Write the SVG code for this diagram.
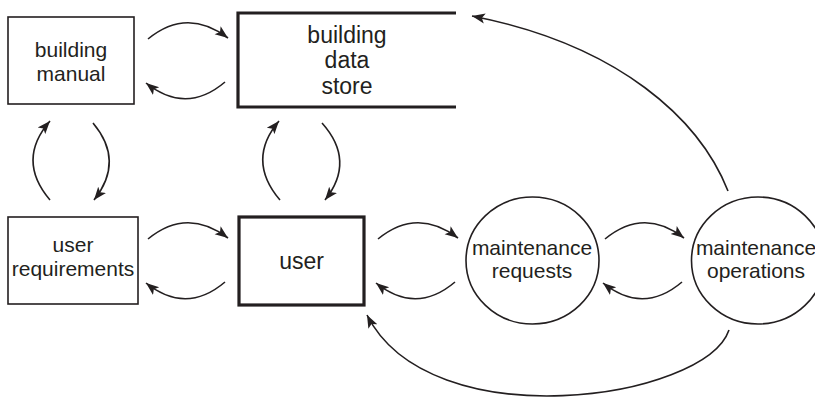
<svg xmlns="http://www.w3.org/2000/svg" width="815" height="397" viewBox="0 0 815 397">
<style>
.thin{fill:#fff;stroke:#231f20;stroke-width:1.6}
.thick{fill:none;stroke:#231f20;stroke-width:3.2}
.t{font-family:"Liberation Sans",Arial,sans-serif;fill:#231f20;text-anchor:middle}
.s21{font-size:21px}
.s23{font-size:23px}
.c path{fill:none;stroke:#231f20;stroke-width:1.6;marker-end:url(#ah)}
</style>
<defs>
<marker id="ah" markerUnits="userSpaceOnUse" markerWidth="14" markerHeight="12" viewBox="0 0 14 12" refX="13" refY="6" orient="auto">
<path d="M0,1 L13,6 L0,11 L3,6 Z" fill="#231f20"/>
</marker>
</defs>
<g id="building-manual">
<rect class="thin" x="8" y="17" width="126" height="87"/>
<text class="t s21" x="71" y="57">building</text>
<text class="t s21" x="71" y="81">manual</text>
</g>
<g id="building-data-store">
<path class="thick" d="M456,13 H238 V107 H456"/>
<text class="t s23" x="347" y="43">building</text>
<text class="t s23" x="347" y="68">data</text>
<text class="t s23" x="347" y="94">store</text>
</g>
<g id="user-requirements">
<rect class="thin" x="8" y="217" width="130" height="87"/>
<text class="t s21" x="73" y="252">user</text>
<text class="t s21" x="73" y="276">requirements</text>
</g>
<g id="user">
<rect class="thick" x="239" y="217" width="125" height="88"/>
<text class="t s23" x="301.5" y="269">user</text>
</g>
<g id="maintenance-requests">
<ellipse class="thin" cx="532.5" cy="260.5" rx="66.5" ry="63.5"/>
<text class="t s21" x="532" y="255">maintenance</text>
<text class="t s21" x="532" y="278">requests</text>
</g>
<g id="maintenance-operations">
<ellipse class="thin" cx="758" cy="260.5" rx="66.5" ry="63.5"/>
<text class="t s21" x="756" y="255">maintenance</text>
<text class="t s21" x="756" y="278">operations</text>
</g>
<g id="connectors" class="c">
<path d="M148,39 Q187,7 228,38"/>
<path d="M225,82 Q186,115 146,83"/>
<path d="M50,200 Q16,160 50,121"/>
<path d="M93,123 Q125,161 94,200"/>
<path d="M280,200 Q246,160 279,121"/>
<path d="M322,123 Q356,161 325,200"/>
<path d="M148,239 Q187,207 228,238"/>
<path d="M225,282 Q186,315 146,283"/>
<path d="M378,239 Q417,207 458,238"/>
<path d="M455,282 Q416,315 376,283"/>
<path d="M605,239 Q644,207 684,238"/>
<path d="M682,282 Q643,315 603,283"/>
<path d="M728,191 C700,120 620,45 472,16"/>
<path d="M729,330 C705,400 430,440 367,315"/>
</g>
</svg>
